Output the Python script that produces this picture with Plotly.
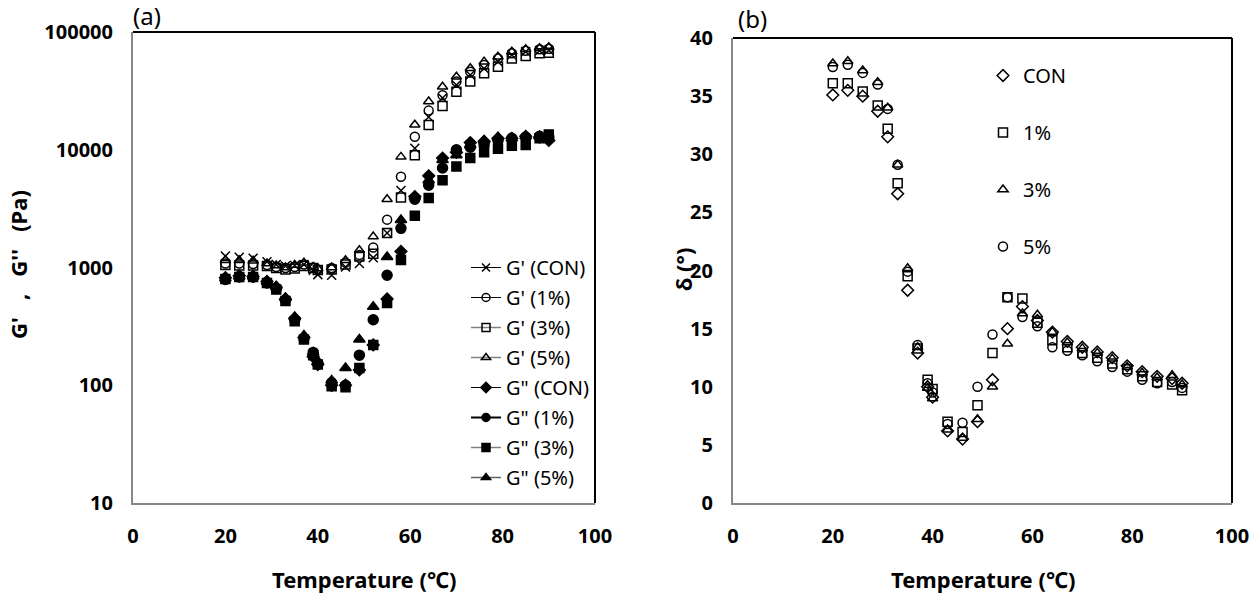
import plotly.graph_objects as go

# ---------------- data ----------------
temps = [20, 23, 26, 29, 31, 33, 35, 37, 39, 40, 43, 46, 49, 52, 55, 58, 61, 64, 67, 70, 73, 76, 79, 82, 85, 88, 90]

g1_con = [1250, 1220, 1200, 1120, 1060, 1030, 1040, 1060, 950, 870, 860, 1010, 1080, 1210, 1960, 4500, 10300, 19000, 27500, 35500, 43200, 49000, 56000, 63800, 68000, 69400, 70000]
g1_1 = [1080, 1080, 1070, 1050, 1010, 990, 1010, 1060, 1000, 960, 990, 1100, 1280, 1480, 2550, 5900, 12900, 21500, 29000, 37900, 46000, 52500, 59700, 65900, 69400, 71300, 72000]
g1_3 = [1050, 1040, 1040, 1030, 990, 960, 980, 1030, 990, 950, 960, 1060, 1240, 1310, 1960, 3940, 9000, 16200, 23500, 31100, 38000, 44600, 50800, 59700, 62500, 65900, 66700]
g1_5 = [1150, 1150, 1140, 1080, 1040, 1000, 1050, 1100, 1010, 980, 1000, 1150, 1400, 1830, 3800, 8700, 16300, 25700, 34300, 41700, 49200, 56000, 61700, 68000, 71300, 72700, 74100]

g2_con = [820, 850, 840, 760, 680, 540, 370, 255, 175, 150, 100, 100, 135, 220, 540, 1370, 4000, 6000, 8500, 9500, 11500, 11800, 12500, 12500, 13000, 12800, 12000]
g2_1 = [790, 830, 830, 740, 660, 530, 360, 250, 190, 152, 105, 100, 180, 360, 860, 2150, 3800, 5000, 7000, 10000, 10500, 11000, 12000, 12500, 12800, 13000, 12800]
g2_3 = [800, 830, 830, 740, 650, 520, 350, 245, 180, 150, 98, 96, 140, 220, 500, 1160, 2750, 3900, 5500, 7200, 8500, 9500, 10200, 10800, 11000, 12500, 13500]
g2_5 = [810, 840, 840, 760, 690, 550, 380, 265, 190, 160, 110, 140, 245, 465, 1230, 2530, 4000, 5500, 8200, 9000, 11000, 12000, 12800, 12500, 13000, 13000, 12500]

d_con = [35.1, 35.5, 35.0, 33.7, 31.5, 26.6, 18.3, 12.9, 10.0, 9.1, 6.2, 5.5, 7.0, 10.6, 15.0, 16.9, 15.7, 14.7, 13.9, 13.4, 13.0, 12.5, 11.8, 11.3, 10.9, 10.7, 10.3]
d_1 = [36.1, 36.1, 35.4, 34.2, 32.2, 27.5, 19.5, 13.3, 10.6, 9.8, 7.0, 6.1, 8.4, 12.9, 17.7, 17.6, 15.5, 14.0, 13.4, 12.9, 12.5, 12.0, 11.5, 10.9, 10.4, 10.2, 9.7]
d_3 = [37.8, 38.0, 37.2, 36.2, 34.0, 29.1, 20.2, 13.4, 9.9, 9.0, 6.3, 5.6, 7.2, 10.0, 13.7, 16.3, 16.2, 14.7, 13.8, 13.3, 12.9, 12.4, 11.7, 11.2, 10.8, 11.0, 10.2]
d_5 = [37.5, 37.7, 37.0, 36.0, 33.9, 29.1, 19.9, 13.6, 10.3, 9.5, 6.8, 6.9, 10.0, 14.5, 17.7, 16.0, 15.2, 13.4, 13.1, 12.7, 12.2, 11.7, 11.3, 10.6, 10.3, 10.4, 9.9]

left_names = ["G' (CON)", "G' (1%)", "G' (3%)", "G' (5%)", 'G" (CON)', 'G" (1%)', 'G" (3%)', 'G" (5%)']
right_names = ["CON", "1%", "3%", "5%"]
y_left_ticks = [10, 100, 1000, 10000, 100000]
y_left_text = ["10", "100", "1000", "10000", "100000"]
x_ticks = [0, 20, 40, 60, 80, 100]
y_right_ticks = [0, 5, 10, 15, 20, 25, 30, 35, 40]

FONT = "Noto Sans, Noto Sans CJK KR"

fig = go.Figure()

left_series = [g1_con, g1_1, g1_3, g1_5, g2_con, g2_1, g2_3, g2_5]
left_symbols = ["x-thin", "circle-open", "square-open", "triangle-up-open",
                "diamond", "circle", "square", "triangle-up"]
left_sizes = [9, 9, 9, 9, 9, 10, 9, 10]
left_linecol = ["#000000", "#000000", "#808080", "#808080", "#000000", "#000000", "#808080", "#606060"]
left_linew = [1, 1, 1.5, 1.5, 1, 2, 1.5, 1.5]

for i, (ys, sym, sz) in enumerate(zip(left_series, left_symbols, left_sizes)):
    fig.add_trace(go.Scatter(
        x=temps, y=ys, mode="markers", xaxis="x", yaxis="y", showlegend=False,
        marker=dict(symbol=sym, size=sz, color="black", line=dict(color="black", width=1.5)),
        hoverinfo="skip"))

for i, name in enumerate(left_names):
    fig.add_trace(go.Scatter(
        x=[None], y=[None], mode="lines+markers", name=name, xaxis="x", yaxis="y",
        legend="legend", legendgroup="l%d" % i,
        line=dict(color=left_linecol[i], width=left_linew[i]),
        marker=dict(symbol=left_symbols[i], size=8, color="black", line=dict(color="black", width=1.5))))

right_series = [d_con, d_1, d_3, d_5]
right_symbols = ["diamond-open", "square-open", "triangle-up-open", "circle-open"]
for i, (ys, sym) in enumerate(zip(right_series, right_symbols)):
    fig.add_trace(go.Scatter(
        x=temps, y=ys, mode="markers", name=right_names[i], xaxis="x2", yaxis="y2",
        legend="legend2", legendgroup="r%d" % i,
        marker=dict(symbol=sym, size=9, color="black", line=dict(color="black", width=1.5)),
        hoverinfo="skip"))

W, H = 1255, 596
def px_x(p):
    return p / W
def px_y(p):
    return 1 - p / H

tickfont = dict(family=FONT, size=20, color="black", weight="bold")
axis_common = dict(showgrid=False, zeroline=False, showline=True, linecolor="#888888",
                   linewidth=2, ticks="", tickfont=tickfont, ticklabelstandoff=14,
                   automargin=False)

fig.update_layout(
    width=W, height=H,
    margin=dict(l=0, r=0, t=0, b=0, autoexpand=False),
    paper_bgcolor="white", plot_bgcolor="white",
    font=dict(family=FONT, color="black"),
    xaxis=dict(domain=[px_x(133), px_x(595)], range=[0, 100], tickvals=x_ticks, anchor="y", **axis_common),
    yaxis=dict(domain=[px_y(503), px_y(32)], type="log", range=[1, 5], tickvals=y_left_ticks,
               ticktext=y_left_text, anchor="x", **axis_common),
    xaxis2=dict(domain=[px_x(733), px_x(1232)], range=[0, 100], tickvals=x_ticks, anchor="y2", **axis_common),
    yaxis2=dict(domain=[px_y(503), px_y(38)], range=[0, 40], tickvals=y_right_ticks, anchor="x2", **axis_common),
    legend=dict(x=px_x(466), y=px_y(248), xanchor="left", yanchor="top",
                font=dict(family=FONT, size=20, color="black"), tracegroupgap=1,
                bgcolor="rgba(0,0,0,0)", itemwidth=30),
    legend2=dict(x=px_x(983), y=px_y(56), xanchor="left", yanchor="top",
                 font=dict(family=FONT, size=20, color="black"), tracegroupgap=28,
                 bgcolor="rgba(0,0,0,0)", itemwidth=30),
    showlegend=True,
)

# top/right black frame lines
for xr, yr in [("x domain", "y domain"), ("x2 domain", "y2 domain")]:
    fig.add_shape(type="line", xref=xr, yref=yr, x0=0, x1=1, y0=1, y1=1, line=dict(color="black", width=2))
    fig.add_shape(type="line", xref=xr, yref=yr, x0=1, x1=1, y0=0, y1=1, line=dict(color="black", width=2))

bold = dict(family=FONT, size=22, color="black", weight="bold")
nb = "\u00a0"
annos = [
    dict(text="Temperature (℃)", x=px_x(364), y=px_y(579), font=bold),
    dict(text="Temperature (℃)", x=px_x(983), y=px_y(579), font=bold),
    dict(text="G'" + nb * 3 + "," + nb * 3 + "G''" + nb * 3 + "(Pa)", x=px_x(18), y=px_y(265), font=bold, textangle=-90),
    dict(text="δ (°)", x=px_x(683), y=px_y(270), font=bold, textangle=-90),
    dict(text="(a)", x=px_x(147), y=px_y(15), font=dict(family=FONT, size=24, color="black")),
    dict(text="(b)", x=px_x(752), y=px_y(18), font=dict(family=FONT, size=24, color="black")),
]
for a in annos:
    fig.add_annotation(xref="paper", yref="paper", xanchor="center", yanchor="middle", showarrow=False, **a)

fig.write_html("out.html")
